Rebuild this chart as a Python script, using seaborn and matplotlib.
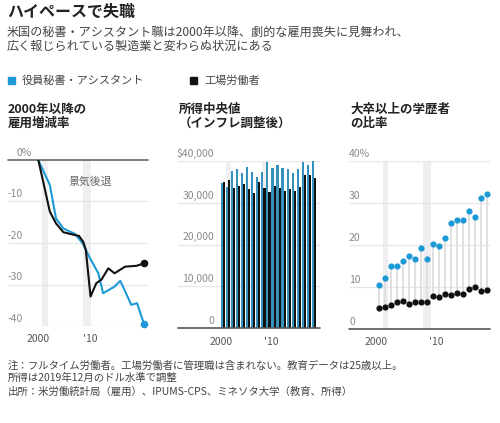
import matplotlib
matplotlib.use("Agg")
import matplotlib.pyplot as plt
import matplotlib.transforms as mtransforms
from matplotlib.patches import Rectangle
import pandas as pd
import seaborn as sns

sns.set_theme(style="white")
plt.rcParams['font.family'] = ['Noto Sans CJK JP', 'DejaVu Sans']

BLUE = "#1d9ad6"
BLACK = "#111111"
SHADE = "#efeff2"
GRID = "#e6e6e6"
YLAB = "#8a8a8a"
XLAB = "#555555"

# 2000年以降の雇用増減率 (%)
sec_years = [2000.0, 2002.2, 2003.4, 2004.8, 2007.0, 2008.5, 2009.9, 2011.5,
             2012.4, 2014.6, 2015.7, 2017.8, 2018.9, 2020.2]
sec_change = [0, -6.0, -14.1, -16.5, -17.8, -20.1, -23.7, -27.3,
              -32.1, -30.5, -29.1, -34.9, -34.5, -39.4]
fac_years = [2000.0, 2001.0, 2002.2, 2003.4, 2004.8, 2006.4, 2007.8, 2008.6,
             2009.1, 2010.0, 2011.1, 2012.1, 2013.4, 2014.6, 2016.6, 2018.8, 2020.2]
fac_change = [0, -5.6, -12.4, -15.3, -17.4, -17.9, -18.3, -19.7,
              -21.7, -32.9, -29.7, -28.8, -26.1, -27.3, -25.7, -25.5, -24.9]

# 所得中央値 / 大卒以上の比率
years = list(range(2000, 2019))
sec_income = [34600, 33800, 37600, 38000, 37000, 38400, 37200, 36200, 37200, 39800,
              38300, 39000, 38200, 37900, 37000, 38000, 39800, 38900, 39900]
fac_income = [34800, 35400, 33600, 34000, 34400, 33300, 32200, 35000, 33600, 32600,
              34000, 33400, 32800, 33300, 32800, 33800, 36600, 36700, 35900]
sec_college = [10.4, 12.0, 15.0, 15.0, 16.0, 17.3, 16.5, 19.1, 16.6, 20.1,
               19.8, 21.5, 25.1, 25.9, 25.9, 28.1, 26.6, 31.2, 32.0]
fac_college = [5.0, 5.2, 5.6, 6.4, 6.6, 5.9, 6.3, 6.4, 6.4, 7.8,
               7.6, 8.2, 8.0, 8.6, 8.3, 9.4, 9.9, 9.0, 9.1]

sec_name = "役員秘書・アシスタント"
fac_name = "工場労働者"

W, H = 500, 423
fig = plt.figure(figsize=(W / 100, H / 100), dpi=100)


def fx(x):
    return x / W


def fy(y):
    return 1 - y / H


def style_axis(ax):
    for s in ax.spines.values():
        s.set_visible(False)
    ax.set_yticks([])
    ax.tick_params(axis='x', which='both', direction='out', colors='#666666',
                   labelcolor=XLAB, labelsize=7.5, pad=2)
    ax.tick_params(axis='x', which='major', length=4, width=0.8)
    ax.tick_params(axis='x', which='minor', length=2.5, width=0.8)
    ax.set_xlabel("")
    ax.set_ylabel("")


def ylabels(ax, vals, labels, x, ha):
    tr = mtransforms.blended_transform_factory(ax.transAxes, ax.transData)
    off = mtransforms.offset_copy(tr, fig=fig, y=1.5, units='points')
    for v, lab in zip(vals, labels):
        ax.text(x, v, lab, transform=off, ha=ha, va='bottom',
                fontsize=7.5, color=YLAB)


# --- panel 1: lines
ax1 = fig.add_axes([fx(8), fy(326), fx(140), 166 / H])
ax1.set_xlim(1994.2, 2021)
ax1.set_ylim(-40, 0)
for a, b in [(2000.8, 2001.9), (2008.6, 2010.0)]:
    ax1.axvspan(a, b, color=SHADE, lw=0, zorder=0)
for v in [-10, -20, -30, -40]:
    ax1.axhline(v, color=GRID, lw=0.9, zorder=0.5)
ax1.axhline(0, color="#666666", lw=1.2, zorder=1, clip_on=False)
sns.lineplot(x=sec_years, y=sec_change, ax=ax1, color=BLUE, lw=1.5, zorder=3)
sns.lineplot(x=fac_years, y=fac_change, ax=ax1, color=BLACK, lw=1.5, zorder=3)
ax1.scatter([sec_years[-1]], [sec_change[-1]], s=20, color=BLUE, zorder=4, clip_on=False)
ax1.scatter([fac_years[-1]], [fac_change[-1]], s=20, color=BLACK, zorder=4, clip_on=False)
style_axis(ax1)
ax1.set_xticks([2000, 2010], ["2000", "'10"])
ax1.set_xticks(range(2000, 2020), minor=True)
ylabels(ax1, [0], ["0%"], 0.064, 'left')
ylabels(ax1, [-10, -20, -30, -40], ["-10", "-20", "-30", "-40"], 0.0, 'left')
ax1.text(2009.9, -5.3, "景気後退", ha='center', va='center', fontsize=7.8,
         color="#666666", zorder=5)

# --- panel 2: bars
ax2 = fig.add_axes([fx(178), fy(328.3), fx(142), 167.6 / H])
for a, b in [(2001.0, 2002.0), (2008.1, 2009.1)]:
    ax2.axvspan(a, b, color=SHADE, lw=0, zorder=0)
for v in [10000, 20000, 30000, 40000]:
    ax2.axhline(v, color=GRID, lw=0.9, zorder=0.5)
inc = pd.DataFrame({
    "x": [y + 0.4 for y in years] * 2,
    "income": sec_income + fac_income,
    "group": [sec_name] * len(years) + [fac_name] * len(years),
})
sns.barplot(data=inc, x="x", y="income", hue="group", hue_order=[sec_name, fac_name],
            palette=[BLUE, BLACK], native_scale=True, width=0.85, dodge=True,
            linewidth=0, legend=False, ax=ax2, zorder=2)
ax2.set_xlim(1991.5, 2019.6)
ax2.set_ylim(0, 40000)
ax2.axhline(0, color="#555555", lw=1.2, zorder=3, clip_on=False)
style_axis(ax2)
ax2.set_xticks([2000, 2010], ["2000", "'10"])
ax2.set_xticks([], minor=True)
ylabels(ax2, [40000, 30000, 20000, 10000, 0],
        ["$40,000", "30,000", "20,000", "10,000", "0"], 0.254, 'right')

# --- panel 3: dots
ax3 = fig.add_axes([fx(349), fy(328.7), fx(141), 168 / H])
for a, b in [(2001.1, 2002.0), (2007.9, 2009.2)]:
    ax3.axvspan(a, b, color=SHADE, lw=0, zorder=0)
for v in [10, 20, 30, 40]:
    ax3.axhline(v, color=GRID, lw=0.9, zorder=0.5)
xs = [y + 0.5 for y in years]
ax3.vlines(xs, fac_college, sec_college, color="#dedede", lw=1.3, zorder=1)
sns.scatterplot(x=xs, y=sec_college, ax=ax3, color=BLUE, s=20, linewidth=0, zorder=3)
sns.scatterplot(x=xs, y=fac_college, ax=ax3, color=BLACK, s=20, linewidth=0, zorder=3)
ax3.set_xlim(1995.5, 2019.05)
ax3.set_ylim(0, 40)
ax3.axhline(0, color="#555555", lw=1.2, zorder=3, clip_on=False)
style_axis(ax3)
ax3.set_xticks([2000, 2010], ["2000", "'10"])
ax3.set_xticks(range(2000, 2020), minor=True)
ylabels(ax3, [40, 30, 20, 10, 0], ["40%", "30", "20", "10", "0"], 0.0, 'left')

# --- texts
fig.text(fx(7), fy(12), "ハイペースで失職", fontsize=11.5, fontweight='bold',
         color="#222222", va='center', ha='left')
fig.text(fx(7), fy(32.5), "米国の秘書・アシスタント職は2000年以降、劇的な雇用喪失に見舞われ、",
         fontsize=8.7, color="#444444", va='center', ha='left')
fig.text(fx(7), fy(46), "広く報じられている製造業と変わらぬ状況にある",
         fontsize=8.7, color="#444444", va='center', ha='left')

fig.patches.append(Rectangle((fx(8), fy(84)), fx(7), 7 / H, color=BLUE,
                             transform=fig.transFigure, figure=fig))
fig.text(fx(22), fy(80.5), sec_name, fontsize=8, color="#444444", va='center')
fig.patches.append(Rectangle((fx(190), fy(84)), fx(7), 7 / H, color=BLACK,
                             transform=fig.transFigure, figure=fig))
fig.text(fx(204), fy(80.5), fac_name, fontsize=8, color="#444444", va='center')

for x, l1, l2 in [(8, "2000年以降の", "雇用増減率"),
                  (179, "所得中央値", "（インフレ調整後）"),
                  (350, "大卒以上の学歴者", "の比率")]:
    fig.text(fx(x), fy(109), l1, fontsize=9, fontweight='bold', color="#222222", va='center')
    fig.text(fx(x), fy(123.5), l2, fontsize=9, fontweight='bold', color="#222222", va='center')

notes = ["注：フルタイム労働者。工場労働者に管理職は含まれない。教育データは25歳以上。",
         "所得は2019年12月のドル水準で調整",
         "出所：米労働統計局（雇用）、IPUMS-CPS、ミネソタ大学（教育、所得）"]
for yy, t in zip([365.5, 377.5, 391.5], notes):
    fig.text(fx(8), fy(yy), t, fontsize=7.5, color="#444444", va='center')

fig.savefig("out.png", dpi=100)
